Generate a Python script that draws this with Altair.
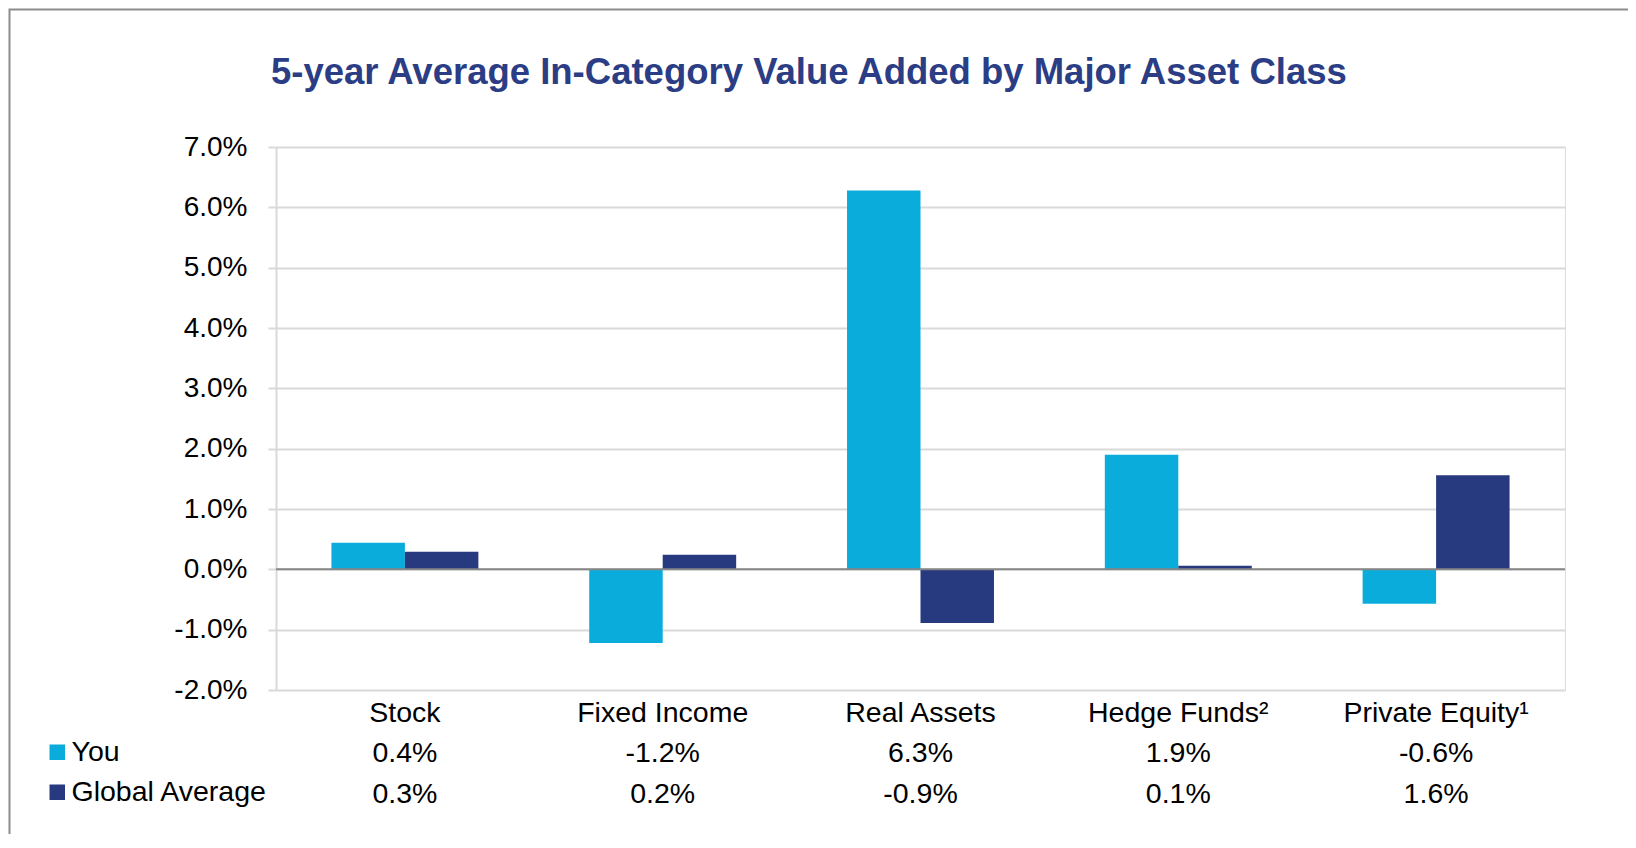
import altair as alt
import pandas as pd

categories = ["Stock", "Fixed Income", "Real Assets", "Hedge Funds²", "Private Equity¹"]
series = ["You", "Global Average"]
you_values = [0.44, -1.22, 6.28, 1.90, -0.57]
global_values = [0.29, 0.24, -0.89, 0.06, 1.56]
you_labels = ["0.4%", "-1.2%", "6.3%", "1.9%", "-0.6%"]
global_labels = ["0.3%", "0.2%", "-0.9%", "0.1%", "1.6%"]
y_ticks = [-2, -1, 0, 1, 2, 3, 4, 5, 6, 7]
colors = ["#0aacdb", "#273a80"]

rows = []
for c, v, l in zip(categories, you_values, you_labels):
    rows.append({"category": c, "series": "You", "value": v, "label": l})
for c, v, l in zip(categories, global_values, global_labels):
    rows.append({"category": c, "series": "Global Average", "value": v, "label": l})
df = pd.DataFrame(rows)

FONT = "Liberation Sans"
FS = 28.5
W, H = 1289, 543

x_enc = alt.X(
    "category:N", sort=categories,
    scale=alt.Scale(paddingInner=0.43, paddingOuter=0.215),
    axis=alt.Axis(title=None, labelAngle=0, domain=False, ticks=False,
                  labelFontSize=FS, labelFont=FONT, labelColor="#000000",
                  labelPadding=8, labelLimit=0),
)

bars = alt.Chart(df).mark_bar().encode(
    x=x_enc,
    xOffset=alt.XOffset("series:N", sort=series,
                        scale=alt.Scale(paddingInner=0, paddingOuter=0)),
    y=alt.Y("value:Q", scale=alt.Scale(domain=[-2, 7], nice=False),
            axis=alt.Axis(title=None, values=y_ticks,
                          labelExpr="(datum.value < 0 ? '-' : '') + format(abs(datum.value), '.1f') + '%'",
                          labelFontSize=28, labelFont=FONT, labelColor="#000000",
                          labelPadding=21, gridColor="#d9d9d9", gridWidth=2,
                          domainColor="#d9d9d9", domainWidth=2,
                          tickColor="#d9d9d9", tickSize=8, tickWidth=2)),
    color=alt.Color("series:N", sort=series,
                    scale=alt.Scale(domain=series, range=colors),
                    legend=alt.Legend(orient="none", legendX=-233, legendY=591,
                                      title=None, symbolType="square",
                                      symbolSize=240, symbolStrokeWidth=0,
                                      labelFontSize=FS, labelFont=FONT,
                                      labelColor="#000000", labelOffset=0,
                                      labelLimit=0,
                                      rowPadding=11, padding=0)),
)

zero = alt.Chart(pd.DataFrame({"z": [0]})).mark_rule(color="#868686", strokeWidth=2).encode(
    y=alt.datum(0)
)

you_row = alt.Chart(df).transform_filter(alt.datum.series == "You").mark_text(
    fontSize=FS, font=FONT, color="#000000", baseline="middle"
).encode(x=alt.X("category:N", sort=categories), y=alt.value(606), text="label:N")

global_row = alt.Chart(df).transform_filter(alt.datum.series == "Global Average").mark_text(
    fontSize=FS, font=FONT, color="#000000", baseline="middle"
).encode(x=alt.X("category:N", sort=categories), y=alt.value(647), text="label:N")

frame = alt.Chart(pd.DataFrame({"f": [0]})).mark_rect(
    fillOpacity=0, stroke="#8c8c8c", strokeWidth=2
).encode(x=alt.value(-266.5), x2=alt.value(1700), y=alt.value(-137.5), y2=alt.value(1000))

chart = alt.layer(frame, bars, zero, you_row, global_row).properties(
    width=W, height=H,
    title=alt.Title("5-year Average In-Category Value Added by Major Asset Class",
                    anchor="start", frame="group", dx=-5, offset=0, dy=112,
                    fontSize=36.5, font=FONT, fontWeight="bold", color="#2b3d84",
                    baseline="alphabetic"),
    autosize=alt.AutoSizeParams(type="none"),
    padding={"left": 268, "top": 139, "right": 63, "bottom": 144},
).configure_view(stroke=None).configure(background="#ffffff")

chart.save("out.html", embed_options={"renderer": "svg", "actions": False})
